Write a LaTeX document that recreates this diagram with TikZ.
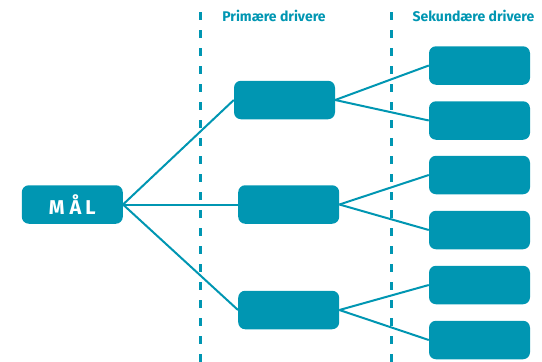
\documentclass[tikz,border=0pt]{standalone}
\usepackage{fontspec}
\setmainfont{Fira Sans}
\definecolor{teal}{RGB}{0,150,178}
\begin{document}
\begin{tikzpicture}[x=1pt,y=-1pt,
  box/.style={fill=teal,draw=none,rounded corners=7pt,minimum width=101pt,minimum height=38.5pt,inner sep=0pt},
  conn/.style={draw=teal,line width=2pt},
  divider/.style={draw=teal,line width=3pt,dash pattern=on 8pt off 10pt},
  head/.style={text=teal,font=\bfseries\fontsize{14}{16}\selectfont,inner sep=0pt}]
\useasboundingbox (0,0) rectangle (542,362);
\coordinate (d1t) at (200.7,12);
\coordinate (d1b) at (200.7,362);
\coordinate (d2t) at (391,12);
\coordinate (d2b) at (391,362);
\draw[divider] (d1t) -- (d1b);
\draw[divider] (d2t) -- (d2b);
\node[head] (h1) at (274,16) {Primære drivere};
\node[head] (h2) at (473.5,16) {Sekundære drivere};
\node[box] (mal) at (72.3,204.5) {\textcolor{white}{\bfseries\fontsize{20}{24}\selectfont M\hspace{5pt}Å\hspace{4pt}L}};
\node[box] (p1) at (284.5,100) {};
\node[box] (p2) at (288.7,204.5) {};
\node[box] (p3) at (288.7,310) {};
\node[box] (s1) at (479.5,65.5) {};
\node[box] (s2) at (479.5,120.5) {};
\node[box] (s3) at (479.5,175) {};
\node[box] (s4) at (479.5,230) {};
\node[box] (s5) at (479.5,285) {};
\node[box] (s6) at (479.5,340) {};
\foreach \p in {p1,p2,p3} \draw[conn] (mal.east) -- (\p.west);
\draw[conn] (p1.east) -- (s1.west);
\draw[conn] (p1.east) -- (s2.west);
\draw[conn] (p2.east) -- (s3.west);
\draw[conn] (p2.east) -- (s4.west);
\draw[conn] (p3.east) -- (s5.west);
\draw[conn] (p3.east) -- (s6.west);
\end{tikzpicture}
\end{document}
